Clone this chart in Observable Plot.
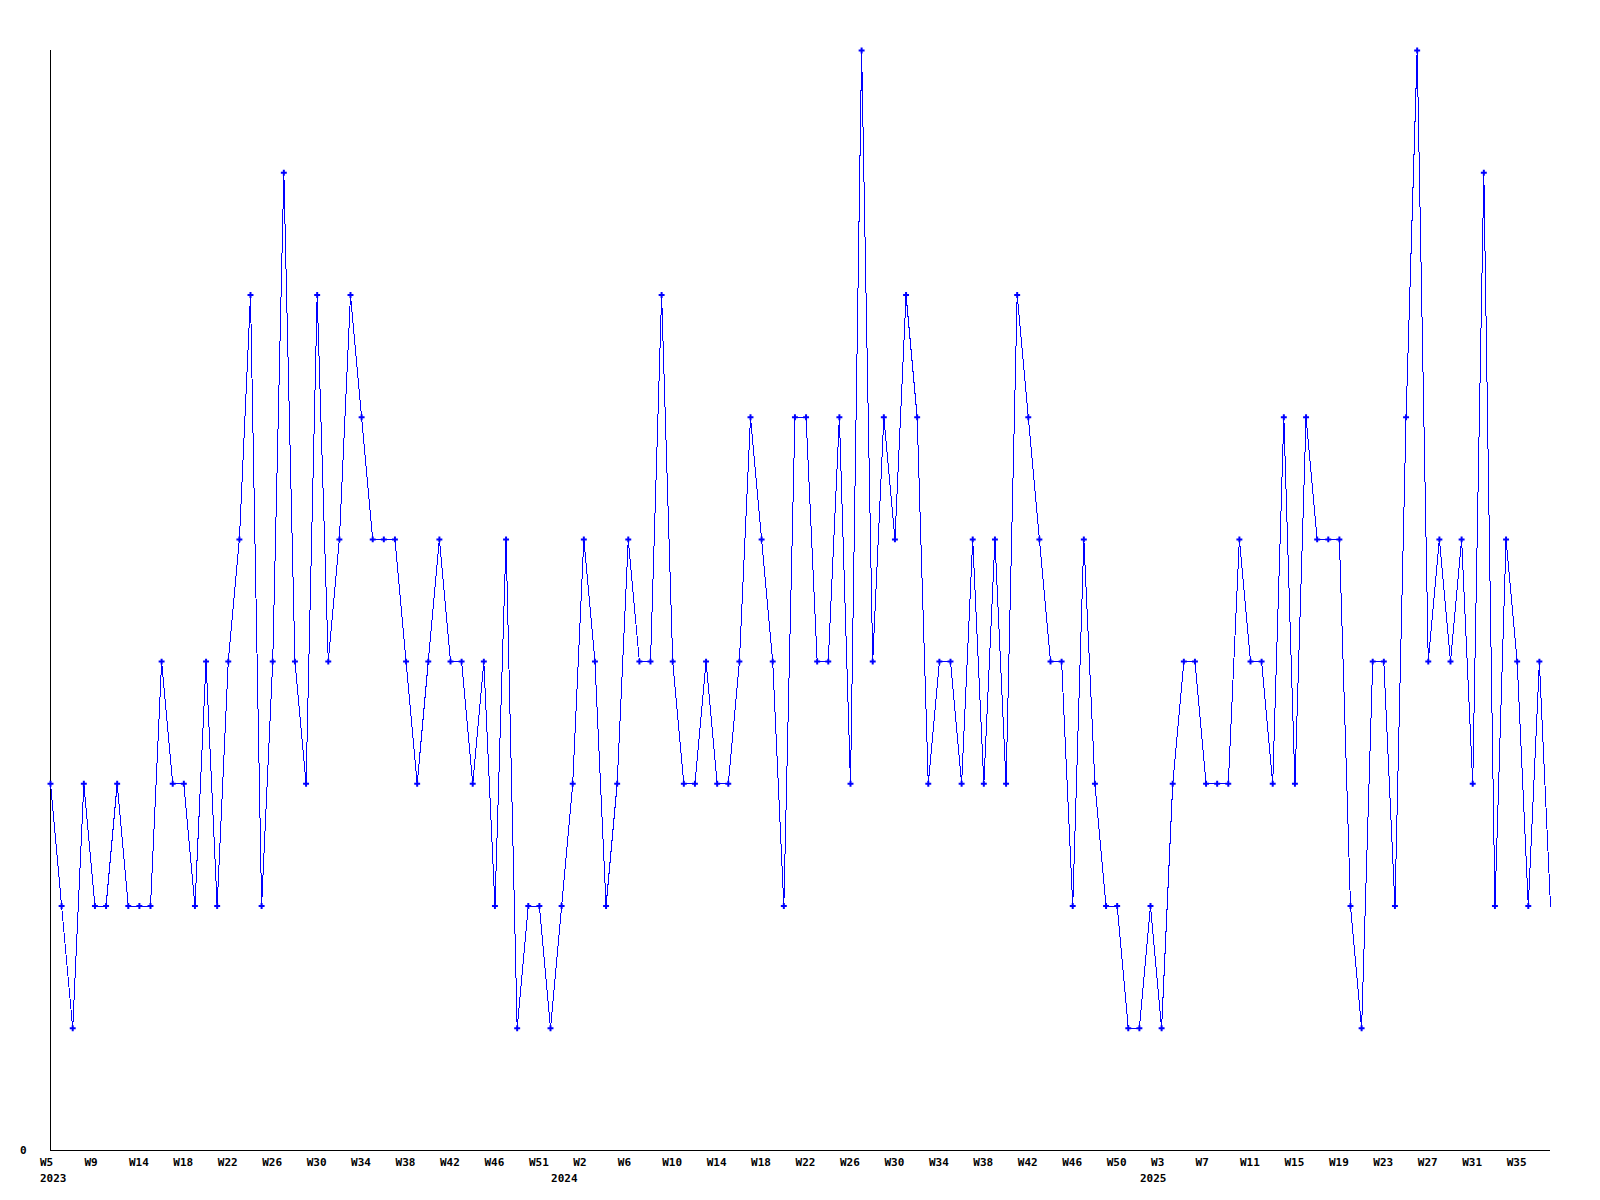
<!DOCTYPE html>
<html>
<head>
<meta charset="utf-8">
<script src="https://cdn.jsdelivr.net/npm/d3@7"></script>
<script src="https://cdn.jsdelivr.net/npm/@observablehq/plot@0.6"></script>
<style>
  html, body { margin: 0; padding: 0; background: #ffffff; }
  #chart svg { display: block; }
</style>
</head>
<body>
<div id="chart"></div>
<script>
// Weekly series values (one per week, first point = 2023 W5)
const values = [
  3,2,1,3,2,2,3,2,2,2,
  4,3,3,2,4,2,4,5,7,2,
  4,8,4,3,7,4,5,7,6,5,
  5,5,4,3,4,5,4,4,3,4,
  2,5,1,2,2,1,2,3,5,4,
  2,3,5,4,4,7,4,3,3,4,
  3,3,4,6,5,4,2,6,6,4,
  4,6,3,9,4,6,5,7,6,3,
  4,4,3,5,3,5,3,7,6,5,
  4,4,2,5,3,2,2,1,1,2,
  1,3,4,4,3,3,3,5,4,4,
  3,6,3,6,5,5,5,2,1,4,
  4,2,6,9,4,5,4,5,3,8,
  2,5,4,2,4,2
];

// Week tick labels (one every 4th point)
const weekLabels = [
  "W5","W9","W14","W18","W22","W26","W30","W34","W38","W42","W46","W51",
  "W2","W6","W10","W14","W18","W22","W26","W30","W34","W38","W42","W46","W50",
  "W3","W7","W11","W15","W19","W23","W27","W31","W35"
];
const tickEvery = 4;

// Year labels and the point index where each year's label sits
const years = ["2023", "2024", "2025"];
const yearStartIndex = [0, 46, 99];

const yMax = 9;

const data = values.map((v, i) => ({i, v}));
const weekTicks = weekLabels.map((_, k) => k * tickEvery);

const chart = Plot.plot({
  width: 1600,
  height: 1200,
  marginLeft: 50,
  marginRight: 50,
  marginTop: 50,
  marginBottom: 50,
  style: {
    fontFamily: "'DejaVu Sans Mono', monospace",
    fontSize: "11px",
    fontWeight: "bold",
    background: "#ffffff",
    color: "#000000"
  },
  x: {domain: [0, values.length - 1], label: null},
  y: {domain: [0, yMax], label: null},
  marks: [
    Plot.axisX({
      ticks: weekTicks,
      tickFormat: d => weekLabels[Math.round(d / tickEvery)],
      tickSize: 0,
      tickPadding: 8,
      textAnchor: "start",
      dx: -10.5,
      label: null,
      fill: "#000000"
    }),
    Plot.axisX({
      ticks: yearStartIndex,
      tickFormat: d => years[yearStartIndex.indexOf(d)],
      tickSize: 0,
      tickPadding: 24,
      textAnchor: "start",
      dx: -10.5,
      label: null,
      fill: "#000000"
    }),
    Plot.axisY({
      ticks: [0],
      tickFormat: d => String(d),
      tickSize: 0,
      tickPadding: 24,
      label: null,
      fill: "#000000"
    }),
    Plot.ruleY([0], {stroke: "#000000", strokeWidth: 1}),
    Plot.ruleX([0], {stroke: "#000000", strokeWidth: 1}),
    Plot.line(data, {x: "i", y: "v", stroke: "#0000ff", strokeWidth: 1, shapeRendering: "crispEdges"}),
    Plot.dot(data.slice(0, -1), {x: "i", y: "v", symbol: "cross", r: 2.5, fill: "#0000ff", stroke: "none"})
  ]
});

document.getElementById("chart").appendChild(chart);
</script>
</body>
</html>
